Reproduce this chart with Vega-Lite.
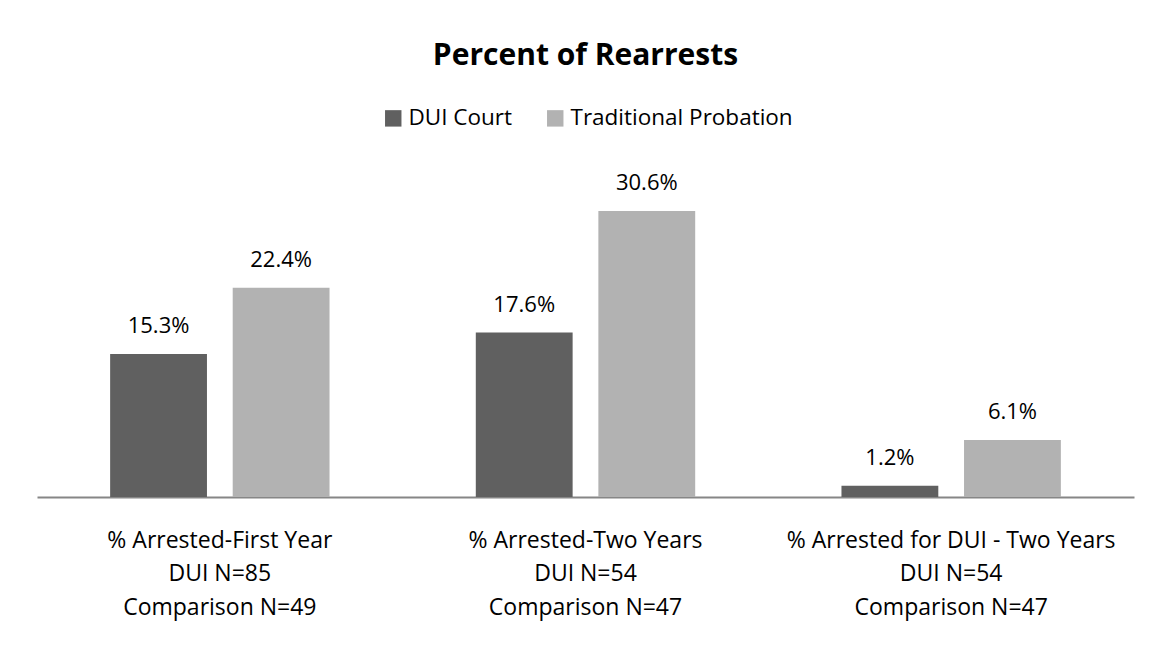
{
  "$schema": "https://vega.github.io/schema/vega-lite/v6.json",
  "autosize": {"type": "none"},
  "width": 1097,
  "height": 327,
  "padding": {"left": 37, "top": 170, "right": 20, "bottom": 150},
  "background": "white",
  "title": {
    "text": "Percent of Rearrests",
    "font": "Open Sans",
    "fontSize": 30,
    "fontWeight": "bold",
    "color": "#000000",
    "anchor": "middle",
    "offset": 36
  },
  "data": {
    "values": [
      {"category": "% Arrested-First Year|DUI  N=85|Comparison N=49", "group": "DUI Court", "value": 15.3, "label": "15.3%"},
      {"category": "% Arrested-First Year|DUI  N=85|Comparison N=49", "group": "Traditional Probation", "value": 22.4, "label": "22.4%"},
      {"category": "% Arrested-Two Years|DUI  N=54|Comparison N=47", "group": "DUI Court", "value": 17.6, "label": "17.6%"},
      {"category": "% Arrested-Two Years|DUI  N=54|Comparison N=47", "group": "Traditional Probation", "value": 30.6, "label": "30.6%"},
      {"category": "% Arrested for DUI - Two Years|DUI  N=54|Comparison N=47", "group": "DUI Court", "value": 1.2, "label": "1.2%"},
      {"category": "% Arrested for DUI - Two Years|DUI  N=54|Comparison N=47", "group": "Traditional Probation", "value": 6.1, "label": "6.1%"}
    ]
  },
  "encoding": {
    "x": {
      "field": "category",
      "type": "nominal",
      "sort": null,
      "scale": {"paddingInner": 0.4, "paddingOuter": 0.2},
      "axis": {
        "title": null,
        "labelAngle": 0,
        "labelExpr": "split(datum.label, '|')",
        "labelFont": "Open Sans",
        "labelFontSize": 23,
        "labelColor": "#000000",
        "labelLineHeight": 33.5,
        "labelPadding": 32,
        "labelLimit": 400,
        "ticks": false,
        "domainColor": "#868686",
        "domainWidth": 2
      }
    },
    "xOffset": {"field": "group", "type": "nominal", "scale": {"paddingInner": 0.21}},
    "y": {
      "field": "value",
      "type": "quantitative",
      "scale": {"domain": [0, 35]},
      "axis": null
    }
  },
  "layer": [
    {
      "mark": {"type": "bar"},
      "encoding": {
        "color": {
          "field": "group",
          "type": "nominal",
          "scale": {"domain": ["DUI Court", "Traditional Probation"], "range": ["#606060", "#b2b2b2"]},
          "legend": {
            "title": null,
            "orient": "none",
            "legendX": 345,
            "legendY": -63,
            "direction": "horizontal",
            "symbolType": "square",
            "symbolSize": 270,
            "symbolStrokeWidth": 0,
            "labelFont": "Open Sans",
            "labelFontSize": 22.5,
            "labelColor": "#000000",
            "labelLimit": 400,
            "columnPadding": 31,
            "labelOffset": 4
          }
        }
      }
    },
    {
      "mark": {"type": "text", "dy": -28, "font": "Open Sans", "fontSize": 22, "color": "#000000"},
      "encoding": {"text": {"field": "label"}}
    }
  ],
  "config": {"view": {"stroke": null}}
}
